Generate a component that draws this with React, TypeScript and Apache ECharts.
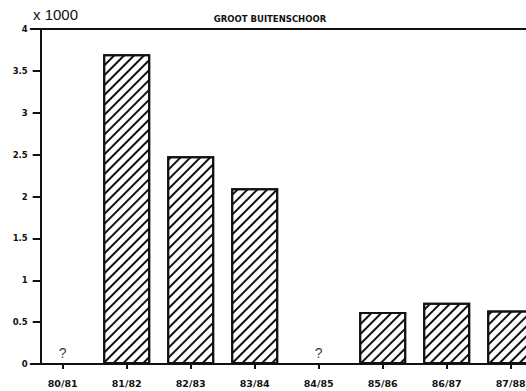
import React, { useEffect, useRef } from "react";
import * as echarts from "echarts";

const categories = ["80/81", "81/82", "82/83", "83/84", "84/85", "85/86", "86/87", "87/88"];
const values: (number | null)[] = [null, 3.7, 2.48, 2.1, null, 0.62, 0.73, 0.64];
const unknownCategories = ["80/81", "84/85"];
const yTicks = [0, 0.5, 1, 1.5, 2, 2.5, 3, 3.5, 4];
const title = "GROOT BUITENSCHOOR";
const unitLabel = "x 1000";

export default function App() {
  const ref = useRef<HTMLDivElement>(null);
  useEffect(() => {
    if (!ref.current) return;
    const chart = echarts.init(ref.current, undefined, { renderer: "svg" });
    const axisLineStyle = { color: "#111", width: 2 };
    const bold = "DejaVu Sans";
    chart.setOption({
      animation: false,
      backgroundColor: "#fff",
      grid: {
        left: 30.7,
        width: 512,
        top: 29,
        height: 335,
        containLabel: false,
        outerBoundsMode: "none",
      },
      title: [
        {
          text: title,
          left: 265,
          textAlign: "center",
          top: 9,
          textStyle: { fontFamily: bold, fontWeight: "bold", fontSize: 8.5, color: "#111" },
        },
      ],
      graphic: [
        {
          type: "text",
          left: 33,
          top: 7,
          style: { text: unitLabel, font: "15px 'Liberation Sans'", fill: "#111" },
        },
      ],
      xAxis: [
        {
          type: "category",
          data: categories,
          position: "bottom",
          axisLine: { show: true, lineStyle: axisLineStyle },
          axisTick: { show: true, alignWithLabel: true, length: 5, lineStyle: axisLineStyle },
          axisLabel: {
            margin: 14,
            interval: 0,
            fontFamily: bold,
            fontWeight: "bold",
            fontSize: 9.5,
            color: "#111",
          },
          splitLine: { show: false },
        },
        {
          type: "category",
          data: categories,
          position: "top",
          axisLine: { show: true, lineStyle: axisLineStyle },
          axisTick: { show: false },
          axisLabel: { show: false },
        },
      ],
      yAxis: {
        type: "value",
        min: yTicks[0],
        max: yTicks[yTicks.length - 1],
        interval: 0.5,
        offset: -10,
        axisLine: { show: true, lineStyle: axisLineStyle },
        axisTick: { show: true, length: 8, lineStyle: axisLineStyle },
        axisLabel: {
          margin: 13,
          fontFamily: bold,
          fontWeight: "bold",
          fontSize: 8.5,
          color: "#111",
          formatter: (v: number) => String(v),
        },
        splitLine: { show: false },
      },
      series: [
        {
          type: "bar",
          data: values,
          barWidth: 47,
          itemStyle: {
            color: "#fff",
            borderColor: "#111",
            borderWidth: 2,
            decal: {
              symbol: "rect",
              symbolSize: 1,
              dashArrayX: [1, 0],
              dashArrayY: [2, 5],
              rotation: -Math.PI / 4,
              color: "#111",
              backgroundColor: "#fff",
            },
          },
        },
        {
          type: "scatter",
          symbolSize: 0,
          data: unknownCategories.map((c) => [c, 0]),
          label: {
            show: true,
            position: "top",
            distance: 4,
            formatter: "?",
            fontFamily: "Liberation Sans",
            fontSize: 14,
            color: "#000",
          },
        },
      ],
    });
    return () => chart.dispose();
  }, []);
  return (
    <div
      ref={ref}
      style={{ position: "fixed", left: 0, top: 0, width: 526, height: 391 }}
    />
  );
}
